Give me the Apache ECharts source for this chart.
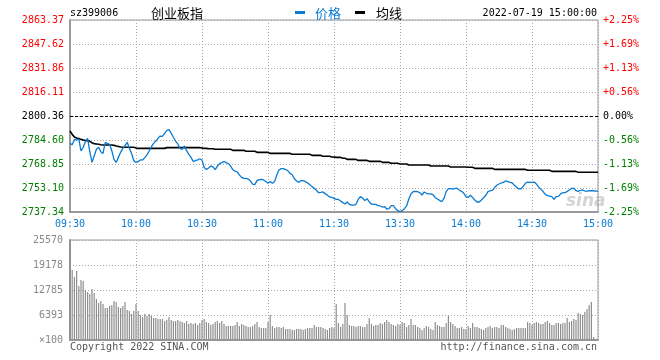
<!DOCTYPE html>
<html><head><meta charset="utf-8">
<script src="https://cdn.jsdelivr.net/npm/echarts@6/dist/echarts.min.js"></script>
<style>html,body{margin:0;padding:0;background:#fff}#c{width:660px;height:360px}</style>
</head><body><div id="c"></div>
<script>
const symbol = 'sz399006';
const indexName = '创业板指';
const stamp = '2022-07-19 15:00:00';
const prevClose = 2800.36;
const priceMin = 2737.34, priceMax = 2863.37;
const priceTicks = ['2737.34','2753.10','2768.85','2784.60','2800.36','2816.11','2831.86','2847.62','2863.37'];
const pctTicks = ['-2.25%','-1.69%','-1.13%','-0.56%','0.00%','+0.56%','+1.13%','+1.69%','+2.25%'];
const volTicks = ['×100','6393','12785','19178','25570'];
const volMax = 25570;
const timeLabels = ['09:30','10:00','10:30','11:00','11:30','13:30','14:00','14:30','15:00'];

function pad(n){return (n<10?'0':'')+n;}
const times = [];
for (let m = 9*60+30; m <= 11*60+30; m++) times.push(pad(Math.floor(m/60))+':'+pad(m%60));
for (let m = 13*60+1; m <= 15*60; m++) times.push(pad(Math.floor(m/60))+':'+pad(m%60));

const price = [
2782.4,2781.5,2785.0,2784.6,2785.3,2777.4,2779.8,2783.5,2785.7,2776.9,
2769.9,2774.1,2778.5,2779.8,2776.9,2775.8,2782.9,2782.4,2781.8,2777.6,
2771.9,2769.9,2773.2,2776.5,2779.1,2780.9,2783.1,2779.1,2775.8,2771.0,
2769.9,2770.4,2771.5,2771.5,2773.0,2774.8,2777.4,2780.2,2782.4,2783.9,
2785.7,2787.2,2787.0,2789.0,2790.9,2791.4,2789.0,2786.4,2783.9,2782.0,
2779.1,2778.5,2780.7,2777.6,2775.2,2773.2,2770.6,2771.0,2771.5,2772.3,
2771.5,2766.5,2765.3,2766.2,2767.5,2766.9,2765.1,2767.5,2769.1,2769.7,
2770.4,2769.7,2769.1,2767.5,2765.1,2764.2,2763.6,2761.6,2760.1,2759.4,
2759.4,2759.0,2757.7,2755.7,2755.3,2757.9,2758.6,2758.8,2758.4,2757.3,
2756.2,2757.3,2756.2,2757.3,2761.6,2764.9,2765.8,2765.8,2765.1,2764.5,
2762.7,2761.8,2759.2,2757.7,2756.8,2757.9,2757.9,2757.3,2756.4,2755.3,
2754.0,2752.9,2751.6,2750.0,2750.2,2750.5,2749.4,2748.3,2747.2,2747.0,
2746.3,2745.6,2745.6,2744.6,2743.5,2742.6,2743.9,2742.4,2741.9,2741.9,
2742.4,2745.6,2747.4,2746.5,2744.8,2746.1,2744.1,2742.6,2742.4,2742.4,
2741.5,2741.3,2740.6,2740.8,2739.3,2739.5,2741.5,2741.5,2739.5,2738.2,
2737.6,2738.2,2739.5,2741.3,2745.9,2749.2,2750.7,2750.9,2750.7,2750.0,
2748.5,2750.5,2749.6,2749.2,2749.2,2748.7,2746.7,2745.9,2745.0,2744.1,
2746.3,2750.7,2752.7,2752.7,2752.4,2752.9,2752.9,2751.6,2750.9,2749.6,
2747.4,2746.9,2748.3,2746.9,2745.2,2743.9,2743.9,2745.2,2746.7,2748.3,
2750.7,2751.3,2751.6,2753.3,2754.9,2755.7,2756.4,2756.8,2757.7,2757.3,
2756.8,2756.4,2754.9,2753.5,2752.6,2752.6,2754.2,2756.2,2757.0,2756.8,
2756.8,2757.0,2755.7,2753.8,2752.2,2750.9,2748.9,2748.1,2747.8,2747.4,
2745.7,2747.4,2747.6,2749.2,2750.0,2750.0,2750.9,2751.8,2752.9,2752.9,
2751.3,2750.9,2751.6,2751.8,2751.1,2751.1,2751.3,2751.3,2751.3,2751.1,2751.1
];

const avgPrice = [
2790.5,2788.3,2786.6,2785.9,2785.5,2785.0,2784.6,2784.2,2784.2,2783.7,
2782.8,2782.2,2782.0,2781.8,2781.5,2781.3,2781.3,2781.3,2781.3,2781.3,
2781.1,2780.7,2780.4,2780.0,2779.8,2779.8,2779.8,2779.8,2779.8,2779.8,
2779.4,2779.1,2779.1,2779.1,2779.1,2779.1,2779.1,2779.1,2779.1,2779.1,
2779.1,2779.1,2779.1,2779.1,2779.6,2779.6,2779.6,2779.6,2779.6,2779.6,
2779.6,2779.6,2779.6,2779.6,2779.6,2779.6,2779.6,2779.6,2779.6,2779.6,
2779.4,2779.1,2779.1,2778.9,2778.9,2778.9,2778.5,2778.5,2778.5,2778.5,
2778.5,2778.5,2778.5,2778.5,2777.8,2777.8,2777.8,2777.8,2777.8,2777.8,
2777.2,2777.2,2777.2,2777.2,2777.2,2776.5,2776.5,2776.5,2776.5,2776.5,
2776.5,2775.8,2775.8,2775.8,2775.8,2775.8,2775.8,2775.8,2775.8,2775.8,
2775.8,2775.2,2775.2,2775.2,2775.2,2775.2,2775.2,2775.2,2775.2,2775.2,
2774.5,2774.5,2774.5,2774.5,2774.5,2773.9,2773.9,2773.9,2773.9,2773.4,
2773.4,2773.2,2773.2,2773.2,2772.6,2772.6,2771.9,2771.9,2771.9,2771.9,
2771.9,2771.2,2771.2,2771.2,2771.2,2771.2,2770.6,2770.6,2770.6,2770.6,
2770.6,2770.6,2769.9,2769.9,2769.9,2769.9,2769.3,2769.3,2769.3,2769.3,
2768.8,2768.8,2768.8,2768.8,2768.2,2768.2,2768.2,2768.2,2768.2,2768.2,
2768.2,2768.2,2768.2,2768.2,2767.5,2767.5,2767.5,2767.5,2767.5,2767.5,
2767.5,2767.5,2767.5,2766.9,2766.9,2766.9,2766.9,2766.9,2766.9,2766.9,
2766.9,2766.7,2766.7,2766.7,2766.0,2766.0,2766.0,2766.0,2766.0,2766.0,
2766.0,2766.0,2766.0,2765.3,2765.3,2765.3,2765.3,2765.3,2765.3,2765.3,
2765.3,2765.3,2765.3,2765.3,2765.3,2765.3,2765.3,2765.3,2764.7,2764.7,
2764.7,2764.7,2764.7,2764.7,2764.7,2764.7,2764.7,2764.7,2764.7,2764.0,
2764.0,2764.0,2764.0,2764.0,2764.0,2764.0,2764.0,2764.0,2764.0,2764.0,
2764.0,2763.4,2763.4,2763.4,2763.4,2763.4,2763.4,2763.4,2763.4,2763.4,2763.4
];

const volumeAM = [
25570,17900,16100,17640,13800,15340,15090,12785,12270,11760,13040,
12020,10480,9460,9970,9200,8180,8180,8690,8950,9970,9720,
8440,8180,8690,9720,7670,7410,6650,7410,9200,7410,
6390,5880,6650,6140,6650,6140,5630,5630,5370,5370,5370,
4860,5110,5880,5110,4860,4860,5110,4860,4600,4350,4860,
4090,4350,4090,4350,3840,4350,5110,5370,4600,4350,
3840,4090,4600,4860,4350,4860,4090,3580,3580,3580,3580,
3840,4600,3580,4090,3840,3580,3320,3320,3580,4090,4600,
3320,3070,3070,3070,4600,6390,3580,3070,3320,3320,3070,
3320,2810,2810,2810,2560,2560,2810,2810,2810,2560,2810,
3070,3070,3070,3840,3320,3320,3320,3070,2810,2560,
3070,3320,3070
];
const volumePM = [
9200,4350,3320,4090,9460,6390,3840,3580,
3580,3320,3580,3580,3320,3320,4090,5630,4090,3580,
3840,3840,4350,4090,4600,5110,4600,4090,3840,3580,4090,
3840,4600,4350,3320,3840,5370,3840,3840,3320,3070,2560,
3070,3580,3320,2810,2560,4600,3840,3580,3320,3320,4350,
6140,4600,4090,3580,3070,3070,3320,2810,2810,3580,3070,
4350,3320,3320,3070,2810,2560,3070,3320,3580,3070,
3320,3320,3070,3840,3840,3320,3070,2810,2560,2810,3070,
3070,3070,3070,3070,4600,4350,3840,4350,4600,4350,
4090,4090,4600,4860,4350,3840,3840,4350,4350,4090,
4350,4350,5630,4600,4860,5370,5110,6900,6650,6390,
7160,7930,8950,9720,770,null,null
];
const volume = volumeAM.concat(volumePM);

const RED = '#ff0000', GREEN = '#008000', BLUE = '#0a7ad2', GRIDC = '#a8a8a8';
const MONO = '"DejaVu Sans Mono", "Liberation Mono", monospace';
const CJK = '"Noto Sans CJK SC", sans-serif';
const showTick = (idx, val) => timeLabels.indexOf(val) >= 0;
const lvlColor = v => v > 4 ? RED : (v < 4 ? GREEN : '#000');

const chart = echarts.init(document.getElementById('c'), null, {renderer: 'canvas'});
chart.setOption({
  animation: false,
  backgroundColor: '#fff',
  grid: [
    {left: 70, right: 62, top: 20, height: 192, show: true, borderColor: '#999', borderWidth: 1},
    {left: 70, right: 62, top: 240, height: 100, show: true, borderColor: '#999', borderWidth: 1}
  ],
  xAxis: [
    {type: 'category', gridIndex: 0, data: times, boundaryGap: false,
     axisLine: {show: true, lineStyle: {color: '#999', width: 2}}, axisTick: {show: false},
     axisLabel: {interval: showTick, color: BLUE, fontFamily: MONO, fontSize: 10, margin: 7},
     splitLine: {show: true, interval: showTick, lineStyle: {color: GRIDC, type: [1, 2]}}},
    {type: 'category', gridIndex: 1, data: times, boundaryGap: false,
     axisLine: {show: true, lineStyle: {color: '#999', width: 2}}, axisTick: {show: false},
     axisLabel: {show: false},
     splitLine: {show: true, interval: showTick, lineStyle: {color: GRIDC, type: [1, 2]}}}
  ],
  yAxis: [
    {type: 'value', gridIndex: 0, min: priceMin, max: priceMax, show: false, splitLine: {show: false}},
    {type: 'value', gridIndex: 0, min: 0, max: 8, interval: 1, position: 'left',
     axisLine: {show: true, lineStyle: {color: '#999', width: 2}}, axisTick: {show: false},
     axisLabel: {formatter: v => priceTicks[v], color: lvlColor, fontFamily: MONO, fontSize: 10, margin: 6},
     splitLine: {show: true, lineStyle: {color: GRIDC, type: [1, 2]}}},
    {type: 'value', gridIndex: 0, min: 0, max: 8, interval: 1, position: 'right',
     axisLine: {show: false}, axisTick: {show: false},
     axisLabel: {formatter: v => pctTicks[v], color: lvlColor, fontFamily: MONO, fontSize: 10, margin: 5},
     splitLine: {show: false}},
    {type: 'value', gridIndex: 1, min: 0, max: volMax, interval: volMax / 4, position: 'left',
     axisLine: {show: true, lineStyle: {color: '#999', width: 2}}, axisTick: {show: false},
     axisLabel: {formatter: v => volTicks[Math.round(v / (volMax / 4))], color: '#888', fontFamily: MONO, fontSize: 10, margin: 7},
     splitLine: {show: true, lineStyle: {color: GRIDC, type: [1, 2]}}}
  ],
  series: [
    {name: '均线', type: 'line', xAxisIndex: 0, yAxisIndex: 0, data: avgPrice, showSymbol: false,
     lineStyle: {color: '#000', width: 1.6}, z: 3},
    {name: '价格', type: 'line', xAxisIndex: 0, yAxisIndex: 0, data: price, showSymbol: false,
     lineStyle: {color: BLUE, width: 1.3}, z: 4,
     markLine: {silent: true, symbol: 'none', label: {show: false},
       lineStyle: {color: '#000', type: [3, 2], width: 1}, data: [{yAxis: prevClose}]}},
    {name: 'volume', type: 'bar', xAxisIndex: 1, yAxisIndex: 3, data: volume, barWidth: 1.2,
     itemStyle: {color: '#8e8e8e'}}
  ],
  graphic: [
    {type: 'text', style: {x: 70, y: 13, text: symbol, font: '10px ' + MONO, fill: '#000', verticalAlign: 'middle'}},
    {type: 'text', style: {x: 151, y: 13, text: indexName, font: '13px ' + CJK, fill: '#000', verticalAlign: 'middle'}},
    {type: 'rect', shape: {x: 295, y: 11, width: 10, height: 3}, style: {fill: BLUE}},
    {type: 'text', style: {x: 315, y: 13, text: '价格', font: '13px ' + CJK, fill: BLUE, verticalAlign: 'middle'}},
    {type: 'rect', shape: {x: 355, y: 11, width: 10, height: 3}, style: {fill: '#000'}},
    {type: 'text', style: {x: 376, y: 13, text: '均线', font: '13px ' + CJK, fill: '#000', verticalAlign: 'middle'}},
    {type: 'text', style: {x: 597, y: 13, text: stamp, font: '10px ' + MONO, fill: '#000', align: 'right', verticalAlign: 'middle'}},
    {type: 'text', style: {x: 70, y: 347, text: 'Copyright 2022 SINA.COM', font: '10px ' + MONO, fill: '#555', verticalAlign: 'middle'}},
    {type: 'text', style: {x: 597, y: 347, text: 'http://finance.sina.com.cn', font: '10px ' + MONO, fill: '#555', align: 'right', verticalAlign: 'middle'}},
    {type: 'text', z: 1, style: {x: 566, y: 202, text: 'sina', font: 'italic bold 17px "DejaVu Sans", sans-serif', fill: 'rgba(160,160,160,0.45)', verticalAlign: 'middle'}}
  ]
});
</script></body></html>
